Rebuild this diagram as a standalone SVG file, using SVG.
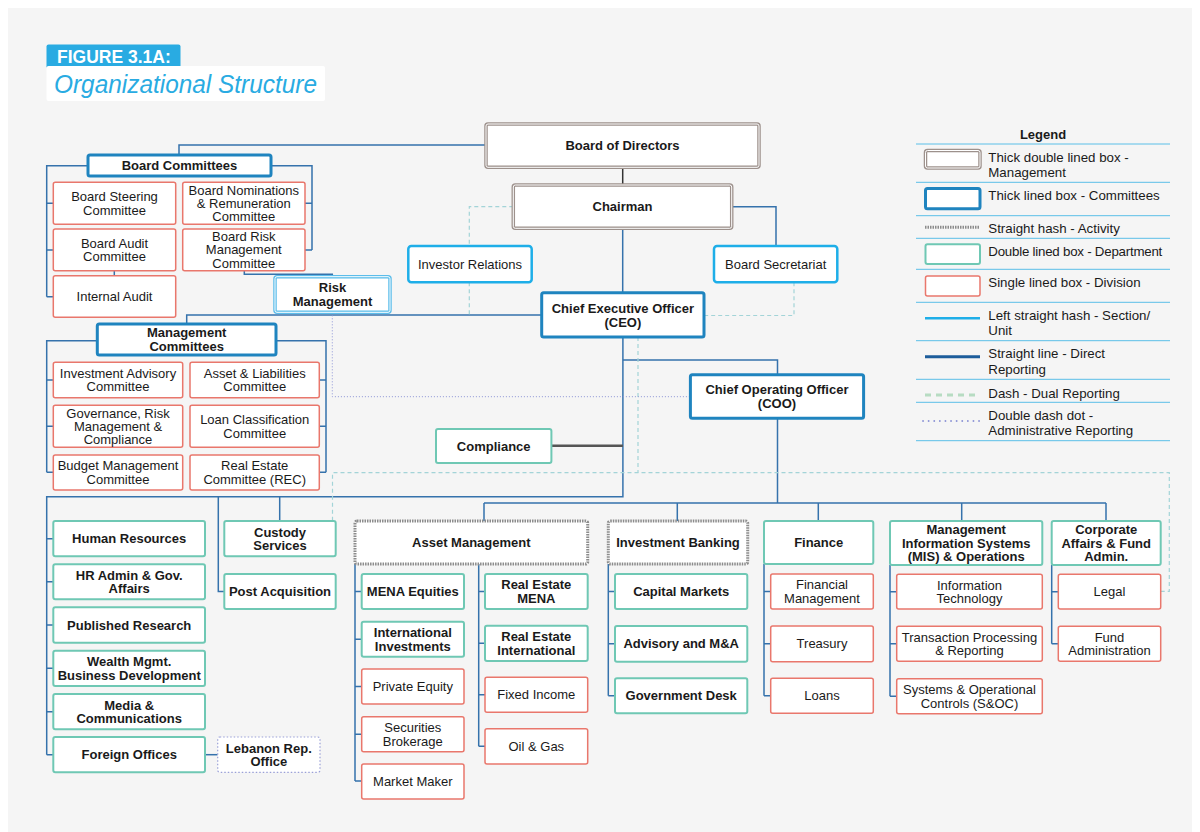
<svg xmlns="http://www.w3.org/2000/svg" width="1200" height="832" viewBox="0 0 1200 832">
<style>
text{font-family:"Liberation Sans",Arial,Helvetica,sans-serif;fill:#1a1a1a}
.t{font-size:13px;text-anchor:middle}
.b{font-weight:bold}
.lg{font-size:13.3px}
.mg{fill:#fff;stroke:#9d918c;stroke-width:3.5}
.mgi{fill:none;stroke:#fff;stroke-width:1}
.cm{fill:#fff;stroke:#1f84bf;stroke-width:3}
.su{fill:#fff;stroke:#1eaee8;stroke-width:2.5}
.dp{fill:#fff;stroke:#6fc8b4;stroke-width:2}
.dv{fill:#fff;stroke:#e9776c;stroke-width:1.5}
.ac{fill:#fff;stroke:#8c8c8c;stroke-width:3;stroke-dasharray:1.5 1}
.rm{fill:#fff;stroke:#5cbdea;stroke-width:3.5}
.lb{fill:#fff;stroke:#9aa0d8;stroke-width:1.2;stroke-dasharray:1.5 2}
.ln{fill:none;stroke:#3572ac;stroke-width:1.5}
.dual{fill:none;stroke:#a3d4d8;stroke-width:1.2;stroke-dasharray:4 3}
.adm{fill:none;stroke:#8e95d6;stroke-width:1;stroke-dasharray:1 2}
.sep{stroke:#5bbfe8;stroke-width:1}
</style>
<rect x="0" y="0" width="1200" height="832" fill="#fff"/>
<rect x="8" y="8" width="1184" height="824" fill="#f5f5f5"/>

<g id="title">
<rect x="46.5" y="44.5" width="134" height="24" rx="2" fill="#29abe2"/>
<text x="57" y="63" style="font-size:17.5px;font-weight:bold;fill:#fff">FIGURE 3.1A:</text>
<rect x="46.5" y="66" width="278.5" height="35" rx="2" fill="#fff"/>
<text x="54" y="93" textLength="263" lengthAdjust="spacingAndGlyphs" style="font-size:25px;font-style:italic;fill:#29abe2">Organizational Structure</text>
</g>

<g id="connectors">
<path class="ln" d="M486,145 H179 V155"/>
<path class="ln" d="M88,165.7 H46.7 V296.7 M46.7,203.3 H53.3 M46.7,250 H53.3 M46.7,296.7 H53.3"/>
<path class="ln" d="M271,165.7 H312 V250 M312,203.3 H305 M312,250 H305"/>
<path class="ln" d="M114.3,270.7 V275.7"/>
<path class="ln" d="M244.3,271 V274.3 H332.3 V276.7"/>
<path class="ln" d="M541.7,315 H186.7 V324"/>
<path class="ln" d="M97.3,340.7 H46.7 V472.3 M46.7,380 H53.3 M46.7,426.3 H53.3 M46.7,472.3 H53.3"/>
<path class="ln" d="M276,340.7 H326 V472.3 M326,380 H319.3 M326,426.3 H319.3 M326,472.3 H319.3"/>
<path class="ln" d="M731.7,206.7 H776 V246"/>
<path class="ln" d="M622.7,228.3 V292.7"/>
<path fill="none" stroke="#333" stroke-width="1.5" d="M622.7,167.3 V185"/>
<path class="ln" d="M622.9,337 V496.7 H46.7 V754.7 M46.7,538.7 H53.3 M46.7,581.8 H53.3 M46.7,625 H53.3 M46.7,668.3 H53.3 M46.7,711.7 H53.3 M46.7,754.7 H53.3"/>
<path class="ln" d="M218.3,496.7 V591.5 H224.3"/>
<path class="ln" d="M279.7,496.7 V521"/>
<path class="ln" d="M205,754.7 H217.7"/>
<path class="ln" d="M622.9,360 H777.5 V374.7"/>
<path class="ln" d="M777.5,418.3 V503"/>
<path class="ln" d="M484,503 H1106 M484,503 V521 M677.3,503 V521 M818.3,503 V521 M961.7,503 V521 M1106,503 V521"/>
<path class="ln" d="M355,564 V781 M355,591.5 H361.7 M355,639.2 H361.7 M355,686.5 H361.7 M355,734.2 H361.7 M355,781 H361.7"/>
<path class="ln" d="M478.7,564 V746.3 M478.7,591.5 H485 M478.7,643.3 H485 M478.7,694.8 H485 M478.7,746.3 H485"/>
<path class="ln" d="M608.3,564 V695.8 M608.3,591.5 H615 M608.3,643.8 H615 M608.3,695.8 H615"/>
<path class="ln" d="M764,564 V695.8 M764,591.5 H770.7 M764,643.8 H770.7 M764,695.8 H770.7"/>
<path class="ln" d="M890,565 V696.2 M890,591.7 H896.7 M890,643.8 H896.7 M890,696.2 H896.7"/>
<path class="ln" d="M1051.7,565 V643.8 M1051.7,591.7 H1058.3 M1051.7,643.8 H1058.3"/>
<path fill="none" stroke="#555" stroke-width="2.5" d="M551.4,445.7 H622.9"/>
<path class="dual" d="M513.3,206.7 H469.3 V246 M469.3,282.3 V315"/>
<path class="dual" d="M794,282.3 V315.5 H704"/>
<path class="dual" d="M638,337 V472.7"/>
<path class="dual" d="M332.5,520.7 V472.7 H1169.3 V591.3 H1160.7"/>
<path class="adm" d="M332.3,312.3 V396.7 H690.4"/>
</g>

<g id="board-of-directors">
<rect class="mg" x="486" y="124" width="273" height="43.3" rx="2"/><rect class="mgi" x="486" y="124" width="273" height="43.3" rx="2"/>
<text class="t b" x="622.5" y="150.3">Board of Directors</text>
</g>
<g id="chairman">
<rect class="mg" x="513.3" y="185" width="218.4" height="43.3" rx="2"/><rect class="mgi" x="513.3" y="185" width="218.4" height="43.3" rx="2"/>
<text class="t b" x="622.5" y="211.3">Chairman</text>
</g>
<g id="investor-relations">
<rect class="su" x="408.3" y="246" width="123.4" height="36.3" rx="3"/>
<text class="t" x="470" y="268.5">Investor Relations</text>
</g>
<g id="board-secretariat">
<rect class="su" x="714" y="246" width="123.3" height="36.3" rx="3"/>
<text class="t" x="775.7" y="268.5">Board Secretariat</text>
</g>
<g id="ceo">
<rect class="cm" x="541.7" y="292.7" width="162.3" height="44.3" rx="2"/>
<text class="t b" x="622.9" y="313.3">Chief Executive Officer<tspan x="622.9" y="326.7">(CEO)</tspan></text>
</g>
<g id="coo">
<rect class="cm" x="690.4" y="374.7" width="173.2" height="43.6" rx="2"/>
<text class="t b" x="777" y="394.4">Chief Operating Officer<tspan x="777" y="407.8">(COO)</tspan></text>
</g>
<g id="compliance">
<rect class="dp" x="436" y="429" width="115.4" height="34" rx="2"/>
<text class="t b" x="493.7" y="450.6">Compliance</text>
</g>

<g id="board-committees">
<rect class="cm" x="88" y="155" width="183" height="21" rx="2"/>
<text class="t b" x="179.5" y="170.3">Board Committees</text>
</g>
<g id="board-steering">
<rect class="dv" x="53.3" y="182.3" width="122.4" height="42" rx="2"/>
<text class="t" x="114.5" y="201.2">Board Steering<tspan x="114.5" y="214.6">Committee</tspan></text>
</g>
<g id="board-nominations">
<rect class="dv" x="182.7" y="182.3" width="122.3" height="42" rx="2"/>
<text class="t" x="243.8" y="194.5">Board Nominations<tspan x="243.8" y="207.9">&amp; Remuneration</tspan><tspan x="243.8" y="221.3">Committee</tspan></text>
</g>
<g id="board-audit">
<rect class="dv" x="53.3" y="229" width="122.4" height="41.7" rx="2"/>
<text class="t" x="114.5" y="247.8">Board Audit<tspan x="114.5" y="261.2">Committee</tspan></text>
</g>
<g id="board-risk">
<rect class="dv" x="182.7" y="229" width="122.3" height="41.7" rx="2"/>
<text class="t" x="243.8" y="241">Board Risk<tspan x="243.8" y="254.4">Management</tspan><tspan x="243.8" y="267.8">Committee</tspan></text>
</g>
<g id="internal-audit">
<rect class="dv" x="53.3" y="275.7" width="122.4" height="41.6" rx="2"/>
<text class="t" x="114.5" y="301.1">Internal Audit</text>
</g>
<g id="risk-management">
<rect class="rm" x="275" y="276.7" width="115" height="35.6" rx="2"/><rect class="mgi" x="275" y="276.7" width="115" height="35.6" rx="2"/>
<text class="t b" x="332.5" y="292.4">Risk<tspan x="332.5" y="305.8">Management</tspan></text>
</g>

<g id="management-committees">
<rect class="cm" x="97.3" y="324" width="178.7" height="31" rx="2"/>
<text class="t b" x="186.7" y="337.3">Management<tspan x="186.7" y="350.7">Committees</tspan></text>
</g>
<g id="investment-advisory">
<rect class="dv" x="53.3" y="362.3" width="129.4" height="35.4" rx="2"/>
<text class="t" x="118" y="377.9">Investment Advisory<tspan x="118" y="391.3">Committee</tspan></text>
</g>
<g id="asset-liabilities">
<rect class="dv" x="190" y="362.3" width="129.3" height="35.4" rx="2"/>
<text class="t" x="254.7" y="377.9">Asset &amp; Liabilities<tspan x="254.7" y="391.3">Committee</tspan></text>
</g>
<g id="governance">
<rect class="dv" x="53.3" y="405.3" width="129.4" height="42" rx="2"/>
<text class="t" x="118" y="417.5">Governance, Risk<tspan x="118" y="430.9">Management &amp;</tspan><tspan x="118" y="444.3">Compliance</tspan></text>
</g>
<g id="loan-classification">
<rect class="dv" x="190" y="405.3" width="129.3" height="42" rx="2"/>
<text class="t" x="254.7" y="424.2">Loan Classification<tspan x="254.7" y="437.6">Committee</tspan></text>
</g>
<g id="budget-management">
<rect class="dv" x="53.3" y="455" width="129.4" height="35" rx="2"/>
<text class="t" x="118" y="470.4">Budget Management<tspan x="118" y="483.8">Committee</tspan></text>
</g>
<g id="real-estate-committee">
<rect class="dv" x="190" y="455" width="129.3" height="35" rx="2"/>
<text class="t" x="254.7" y="470.4">Real Estate<tspan x="254.7" y="483.8">Committee (REC)</tspan></text>
</g>

<g id="human-resources">
<rect class="dp" x="53.3" y="521" width="151.7" height="35.3" rx="2"/>
<text class="t b" x="129.2" y="543.3">Human Resources</text>
</g>
<g id="hr-admin">
<rect class="dp" x="53.3" y="564.3" width="151.7" height="35" rx="2"/>
<text class="t b" x="129.2" y="579.7">HR Admin &amp; Gov.<tspan x="129.2" y="593.1">Affairs</tspan></text>
</g>
<g id="published-research">
<rect class="dp" x="53.3" y="607.3" width="151.7" height="35.4" rx="2"/>
<text class="t b" x="129.2" y="629.6">Published Research</text>
</g>
<g id="wealth-mgmt">
<rect class="dp" x="53.3" y="650.7" width="151.7" height="35.3" rx="2"/>
<text class="t b" x="129.2" y="666.2">Wealth Mgmt.<tspan x="129.2" y="679.6">Business Development</tspan></text>
</g>
<g id="media">
<rect class="dp" x="53.3" y="694" width="151.7" height="35.3" rx="2"/>
<text class="t b" x="129.2" y="709.5">Media &amp;<tspan x="129.2" y="722.9">Communications</tspan></text>
</g>
<g id="foreign-offices">
<rect class="dp" x="53.3" y="737" width="151.7" height="35.3" rx="2"/>
<text class="t b" x="129.2" y="759.2">Foreign Offices</text>
</g>
<g id="lebanon-rep-office">
<rect class="lb" x="217.7" y="737" width="102.3" height="35.3" rx="2"/>
<text class="t b" x="268.8" y="752.5">Lebanon Rep.<tspan x="268.8" y="765.9">Office</tspan></text>
</g>
<g id="custody-services">
<rect class="dp" x="224.3" y="521" width="111.4" height="35.3" rx="2"/>
<text class="t b" x="280" y="536.5">Custody<tspan x="280" y="549.9">Services</tspan></text>
</g>
<g id="post-acquisition">
<rect class="dp" x="224.3" y="574" width="111.4" height="35" rx="2"/>
<text class="t b" x="280" y="596.1">Post Acquisition</text>
</g>

<g id="asset-management">
<rect class="ac" x="355" y="521" width="232.7" height="43" rx="2"/>
<text class="t b" x="471.3" y="547.1">Asset Management</text>
</g>
<g id="mena-equities">
<rect class="dp" x="361.7" y="574" width="102.3" height="35" rx="2"/>
<text class="t b" x="412.8" y="596.1">MENA Equities</text>
</g>
<g id="international-investments">
<rect class="dp" x="361.7" y="621.7" width="102.3" height="35" rx="2"/>
<text class="t b" x="412.8" y="637.1">International<tspan x="412.8" y="650.5">Investments</tspan></text>
</g>
<g id="private-equity">
<rect class="dv" x="361.7" y="669" width="102.3" height="35" rx="2"/>
<text class="t" x="412.8" y="691.1">Private Equity</text>
</g>
<g id="securities-brokerage">
<rect class="dv" x="361.7" y="716.7" width="102.3" height="35" rx="2"/>
<text class="t" x="412.8" y="732.1">Securities<tspan x="412.8" y="745.5">Brokerage</tspan></text>
</g>
<g id="market-maker">
<rect class="dv" x="361.7" y="764" width="102.3" height="35" rx="2"/>
<text class="t" x="412.8" y="786.1">Market Maker</text>
</g>
<g id="real-estate-mena">
<rect class="dp" x="485" y="574" width="102.7" height="35" rx="2"/>
<text class="t b" x="536.3" y="589.4">Real Estate<tspan x="536.3" y="602.8">MENA</tspan></text>
</g>
<g id="real-estate-international">
<rect class="dp" x="485" y="625.7" width="102.7" height="35.3" rx="2"/>
<text class="t b" x="536.3" y="641.2">Real Estate<tspan x="536.3" y="654.6">International</tspan></text>
</g>
<g id="fixed-income">
<rect class="dv" x="485" y="677.3" width="102.7" height="35" rx="2"/>
<text class="t" x="536.3" y="699.4">Fixed Income</text>
</g>
<g id="oil-gas">
<rect class="dv" x="485" y="728.7" width="102.7" height="35.3" rx="2"/>
<text class="t" x="536.3" y="750.9">Oil &amp; Gas</text>
</g>

<g id="investment-banking">
<rect class="ac" x="608.3" y="521" width="139.4" height="43" rx="2"/>
<text class="t b" x="678" y="547.1">Investment Banking</text>
</g>
<g id="capital-markets">
<rect class="dp" x="615" y="574" width="132.3" height="35" rx="2"/>
<text class="t b" x="681.2" y="596.1">Capital Markets</text>
</g>
<g id="advisory">
<rect class="dp" x="615" y="626" width="132.3" height="35.7" rx="2"/>
<text class="t b" x="681.2" y="648.4">Advisory and M&amp;A</text>
</g>
<g id="government-desk">
<rect class="dp" x="615" y="678.3" width="132.3" height="35" rx="2"/>
<text class="t b" x="681.2" y="700.4">Government Desk</text>
</g>

<g id="finance">
<rect class="dp" x="764" y="521" width="109.3" height="43" rx="2"/>
<text class="t b" x="818.7" y="547.1">Finance</text>
</g>
<g id="financial-management">
<rect class="dv" x="770.7" y="574" width="102.6" height="35" rx="2"/>
<text class="t" x="822" y="589.4">Financial<tspan x="822" y="602.8">Management</tspan></text>
</g>
<g id="treasury">
<rect class="dv" x="770.7" y="626" width="102.6" height="35.7" rx="2"/>
<text class="t" x="822" y="648.4">Treasury</text>
</g>
<g id="loans">
<rect class="dv" x="770.7" y="678.3" width="102.6" height="35" rx="2"/>
<text class="t" x="822" y="700.4">Loans</text>
</g>

<g id="mis-operations">
<rect class="dp" x="890" y="521" width="152.3" height="44" rx="2"/>
<text class="t b" x="966.2" y="534.2">Management<tspan x="966.2" y="547.6">Information Systems</tspan><tspan x="966.2" y="561">(MIS) &amp; Operations</tspan></text>
</g>
<g id="information-technology">
<rect class="dv" x="896.7" y="574.3" width="145.6" height="34.7" rx="2"/>
<text class="t" x="969.5" y="589.5">Information<tspan x="969.5" y="602.9">Technology</tspan></text>
</g>
<g id="transaction-processing">
<rect class="dv" x="896.7" y="626.3" width="145.6" height="35" rx="2"/>
<text class="t" x="969.5" y="641.7">Transaction Processing<tspan x="969.5" y="655.1">&amp; Reporting</tspan></text>
</g>
<g id="systems-controls">
<rect class="dv" x="896.7" y="678.7" width="145.6" height="35" rx="2"/>
<text class="t" x="969.5" y="694.1">Systems &amp; Operational<tspan x="969.5" y="707.5">Controls (S&amp;OC)</tspan></text>
</g>

<g id="corporate-affairs">
<rect class="dp" x="1051.7" y="521" width="109" height="44" rx="2"/>
<text class="t b" x="1106.2" y="534.2">Corporate<tspan x="1106.2" y="547.6">Affairs &amp; Fund</tspan><tspan x="1106.2" y="561">Admin.</tspan></text>
</g>
<g id="legal">
<rect class="dv" x="1058.3" y="574.3" width="102.4" height="34.7" rx="2"/>
<text class="t" x="1109.5" y="596.2">Legal</text>
</g>
<g id="fund-administration">
<rect class="dv" x="1058.3" y="626.3" width="102.4" height="35" rx="2"/>
<text class="t" x="1109.5" y="641.7">Fund<tspan x="1109.5" y="655.1">Administration</tspan></text>
</g>

<g id="legend">
<text class="t b" x="1043" y="139">Legend</text>
<line class="sep" x1="916" y1="144" x2="1170" y2="144"/>
<line class="sep" x1="916" y1="182.3" x2="1170" y2="182.3"/>
<line class="sep" x1="916" y1="215.7" x2="1170" y2="215.7"/>
<line class="sep" x1="916" y1="238.3" x2="1170" y2="238.3"/>
<line class="sep" x1="916" y1="269.3" x2="1170" y2="269.3"/>
<line class="sep" x1="916" y1="302.3" x2="1170" y2="302.3"/>
<line class="sep" x1="916" y1="340.7" x2="1170" y2="340.7"/>
<line class="sep" x1="916" y1="379.3" x2="1170" y2="379.3"/>
<line class="sep" x1="916" y1="402.3" x2="1170" y2="402.3"/>
<line class="sep" x1="916" y1="440.7" x2="1170" y2="440.7"/>
<rect class="mg" x="925.5" y="150.5" width="54.5" height="17.5" rx="2"/><rect class="mgi" x="925.5" y="150.5" width="54.5" height="17.5" rx="2"/>
<text class="lg" x="988.3" y="161.7">Thick double lined box -<tspan x="988.3" y="176.8">Management</tspan></text>
<rect class="cm" x="925.5" y="188.5" width="54.5" height="20.3" rx="2"/>
<text class="lg" x="988.3" y="200">Thick lined box - Committees</text>
<line x1="925" y1="227.3" x2="980" y2="227.3" stroke="#8c8c8c" stroke-width="3" stroke-dasharray="1.5 1"/>
<text class="lg" x="988.3" y="232.8">Straight hash - Activity</text>
<rect class="dp" x="925.5" y="244.3" width="54.5" height="19.7" rx="2"/>
<text class="lg" x="988.3" y="256.2" textLength="174" lengthAdjust="spacing">Double lined box - Department</text>
<rect class="dv" x="925.5" y="276" width="54.5" height="20" rx="2"/>
<text class="lg" x="988.3" y="287">Single lined box - Division</text>
<line x1="925" y1="318.3" x2="980" y2="318.3" stroke="#1eaee8" stroke-width="2.5"/>
<text class="lg" x="988.3" y="319.5">Left straight hash - Section/<tspan x="988.3" y="334.5">Unit</tspan></text>
<line x1="925" y1="356.7" x2="980" y2="356.7" stroke="#1d5d9b" stroke-width="3"/>
<text class="lg" x="988.3" y="358">Straight line - Direct<tspan x="988.3" y="373.5">Reporting</tspan></text>
<line x1="925" y1="395" x2="980" y2="395" stroke="#b7dcc2" stroke-width="3" stroke-dasharray="6 5"/>
<text class="lg" x="988.3" y="397.5">Dash - Dual Reporting</text>
<line x1="923" y1="421" x2="982" y2="421" stroke="#8e95d6" stroke-width="1.8" stroke-linecap="round" stroke-dasharray="0.1 5.5"/>
<text class="lg" x="988.3" y="419.5">Double dash dot -<tspan x="988.3" y="434.8">Administrative Reporting</tspan></text>
</g>
</svg>
